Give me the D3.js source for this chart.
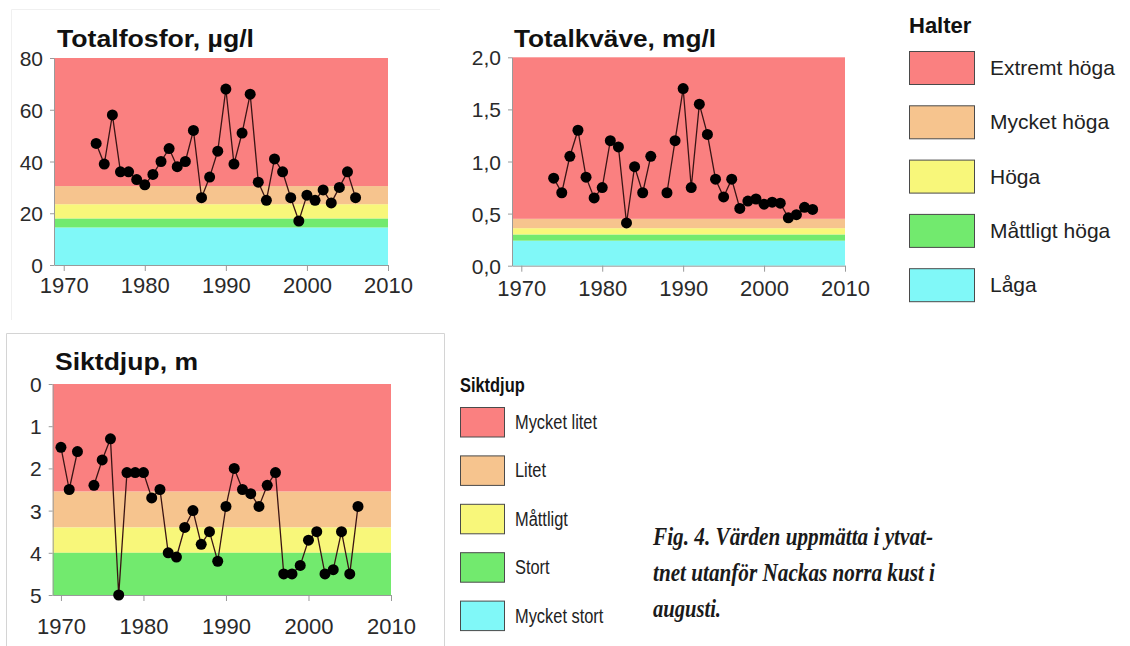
<!DOCTYPE html>
<html>
<head>
<meta charset="utf-8">
<script src="https://cdn.jsdelivr.net/npm/d3@7"></script>
<style>
    body { margin: 0; background: #fff; }
    svg { display: block; font-family: "Liberation Sans", Arial, sans-serif; }
</style>
</head>
<body>
<div class="chart"></div>
<script>
// data
var fosforYears = [1974, 1975, 1976, 1977, 1978, 1979, 1980, 1981, 1982, 1983, 1984, 1985, 1986, 1987, 1988, 1989,
    1990, 1991, 1992, 1993, 1994, 1995, 1996, 1997, 1998, 1999, 2000, 2001, 2002, 2003, 2004, 2005, 2006];
var fosfor = [47, 39, 58, 36, 36, 33, 31, 35, 40, 45, 38, 40, 52, 26, 34, 44,
    68, 39, 51, 66, 32, 25, 41, 36, 26, 17, 27, 25, 29, 24, 30, 36, 26];

var kvaveYears = fosforYears;
var kvave = [0.84, 0.70, 1.05, 1.30, 0.85, 0.65, 0.75, 1.20, 1.14, 0.41, 0.95, 0.70, 1.05, null, 0.70, 1.20,
    1.70, 0.75, 1.55, 1.26, 0.83, 0.66, 0.83, 0.55, 0.62, 0.64, 0.59, 0.61, 0.60, 0.46, 0.49, 0.56, 0.54];

var siktYears = [1970, 1971, 1972, 1973, 1974, 1975, 1976, 1977, 1978, 1979, 1980, 1981, 1982, 1983, 1984, 1985,
    1986, 1987, 1988, 1989, 1990, 1991, 1992, 1993, 1994, 1995, 1996, 1997, 1998, 1999, 2000, 2001, 2002, 2003,
    2004, 2005, 2006];
var sikt = [1.5, 2.5, 1.6, null, 2.4, 1.8, 1.3, 5.0, 2.1, 2.1, 2.1, 2.7, 2.5, 4.0, 4.1, 3.4,
    3.0, 3.8, 3.5, 4.2, 2.9, 2.0, 2.5, 2.6, 2.9, 2.4, 2.1, 4.5, 4.5, 4.3, 3.7, 3.5, 4.5, 4.4,
    3.5, 4.5, 2.9];

// class limits (band edges) per variable
var fosforBands = [0, 14.5, 18, 23.5, 30.5, 80];
var kvaveBands = [0, 0.24, 0.30, 0.36, 0.45, 2.0];
var siktBands = [0, 2.55, 3.4, 4.0, 5.0];

var xTicks = [1970, 1980, 1990, 2000, 2010];
var fosforTicks = [0, 20, 40, 60, 80];
var kvaveTicks = [0, 0.5, 1.0, 1.5, 2.0];
var siktTicks = [0, 1, 2, 3, 4, 5];

var halterLabels = ["Extremt höga", "Mycket höga", "Höga", "Måttligt höga", "Låga"];
var siktLabels = ["Mycket litet", "Litet", "Måttligt", "Stort", "Mycket stort"];
var classColours = ["#fa8080", "#f6c48e", "#f8f77a", "#72ea6e", "#80f8f8"];

var captionLines = ["Fig. 4. Värden uppmätta i ytvat-", "tnet utanför Nackas norra kust i", "augusti."];

var svg = d3.select('.chart')
    .append('svg')
    .attr('width', 1130)
    .attr('height', 646);

// squeeze a text element horizontally (the original uses a narrow face)
function squeeze(sel, k) {
    sel.each(function () {
        var w = this.getComputedTextLength();
        d3.select(this)
            .attr('textLength', w * k)
            .attr('lengthAdjust', 'spacingAndGlyphs');
    });
}

// faint frames from the original layout
svg.append('path')
    .attr('d', 'M6.5,646 V333.5 H444.5 V646')
    .attr('fill', 'none')
    .attr('stroke', '#d4d4d4');
svg.append('path')
    .attr('d', 'M11.5,320 V9.5 H440')
    .attr('fill', 'none')
    .attr('stroke', '#f0f0f0');

var panels = [
    {
        title: "Totalfosfor, µg/l", titleX: 57, titleY: 47, titleW: 197,
        years: fosforYears, values: fosfor, bands: fosforBands, bandColours: classColours.slice().reverse(),
        x: [1968.8, 2010], xr: [54, 388], y: [0, 80], yr: [265, 58],
        yTicks: fosforTicks, fmt: d3.format('d'), xLabelY: 293
    },
    {
        title: "Totalkväve, mg/l", titleX: 514, titleY: 47, titleW: 202,
        years: kvaveYears, values: kvave, bands: kvaveBands, bandColours: classColours.slice().reverse(),
        x: [1968.85, 2010], xr: [512, 845], y: [0, 2], yr: [265.7, 57.3],
        yTicks: kvaveTicks, fmt: function (d) { return d3.format('.1f')(d).replace('.', ','); }, xLabelY: 296
    },
    {
        title: "Siktdjup, m", titleX: 55, titleY: 370, titleW: 143,
        years: siktYears, values: sikt, bands: siktBands, bandColours: classColours.slice(0, 4),
        x: [1969, 2010], xr: [52.7, 391], y: [0, 5], yr: [384, 595],
        yTicks: siktTicks, fmt: d3.format('d'), xLabelY: 634
    }
];

panels.forEach(drawPanel);

function drawPanel(p) {
    var xScale = d3.scaleLinear().domain(p.x).range(p.xr);
    var yScale = d3.scaleLinear().domain(p.y).range(p.yr);
    var bottom = Math.max(p.yr[0], p.yr[1]);
    var g = svg.append('g');

    // colour bands
    for (var i = 0; i < p.bands.length - 1; i++) {
        var y0 = yScale(p.bands[i]), y1 = yScale(p.bands[i + 1]);
        g.append('rect')
            .attr('x', p.xr[0])
            .attr('width', p.xr[1] - p.xr[0])
            .attr('y', Math.min(y0, y1))
            .attr('height', Math.abs(y1 - y0))
            .attr('fill', p.bandColours[i]);
    }

    var xAxis = d3.axisBottom(xScale)
        .tickValues(xTicks)
        .tickFormat(d3.format('d'))
        .tickSize(6)
        .tickSizeOuter(0);
    var ax = g.append('g')
        .attr('transform', 'translate(0,' + bottom + ')')
        .call(xAxis);
    ax.select('.domain').attr('stroke', '#9a9a9a');
    ax.selectAll('.tick line').attr('stroke', '#9a9a9a');
    ax.selectAll('.tick text')
        .attr('y', p.xLabelY - bottom)
        .attr('dy', 0)
        .style('font-size', '22px')
        .attr('fill', '#2a2a2a');

    var yAxis = d3.axisLeft(yScale)
        .tickValues(p.yTicks)
        .tickFormat(p.fmt)
        .tickSize(4)
        .tickSizeOuter(0);
    var ay = g.append('g')
        .attr('transform', 'translate(' + p.xr[0] + ',0)')
        .call(yAxis);
    ay.select('.domain').attr('stroke', '#9a9a9a');
    ay.selectAll('.tick line').attr('stroke', '#9a9a9a');
    ay.selectAll('.tick text')
        .attr('x', -11)
        .attr('dy', '0.36em')
        .style('font-size', '21px')
        .attr('fill', '#2a2a2a');

    var pts = p.years.map(function (yr, i) {
        return { x: yr, y: p.values[i] };
    });

    var line = d3.line()
        .defined(function (d) { return d.y !== null; })
        .x(function (d) { return xScale(d.x); })
        .y(function (d) { return yScale(d.y); });

    g.append('path')
        .datum(pts)
        .attr('d', line)
        .attr('fill', 'none')
        .attr('stroke', '#3a1414')
        .attr('stroke-width', 1.3);

    g.selectAll('circle')
        .data(pts.filter(function (d) { return d.y !== null; }))
        .enter()
        .append('circle')
        .attr('cx', function (d) { return xScale(d.x); })
        .attr('cy', function (d) { return yScale(d.y); })
        .attr('r', 5.5)
        .attr('fill', '#000');

    g.append('text')
        .attr('x', p.titleX)
        .attr('y', p.titleY)
        .attr('textLength', p.titleW)
        .attr('lengthAdjust', 'spacingAndGlyphs')
        .style('font-size', '23px')
        .style('font-weight', 'bold')
        .attr('fill', '#111')
        .text(p.title);
}

// legends
function drawLegend(title, labels, opts) {
    var g = svg.append('g');
    g.append('text')
        .attr('x', opts.x)
        .attr('y', opts.titleY)
        .style('font-size', opts.titleSize + 'px')
        .style('font-weight', 'bold')
        .attr('fill', '#111')
        .text(title)
        .call(squeeze, opts.squeeze);
    labels.forEach(function (s, i) {
        g.append('rect')
            .attr('x', opts.x + 0.5)
            .attr('y', opts.y0 + i * opts.step + 0.5)
            .attr('width', opts.w)
            .attr('height', opts.h)
            .attr('fill', classColours[i])
            .attr('stroke', '#4a4a4a')
            .attr('stroke-width', 1);
        g.append('text')
            .attr('x', opts.labelX)
            .attr('y', opts.y0 + i * opts.step + opts.h / 2)
            .attr('dy', '0.36em')
            .style('font-size', opts.size + 'px')
            .attr('fill', '#222')
            .text(s)
            .call(squeeze, opts.squeeze);
    });
}

drawLegend("Halter", halterLabels, {
    x: 909, titleY: 33, titleSize: 22, y0: 51, step: 54.3, w: 65, h: 33, labelX: 990, size: 21, squeeze: 1
});
drawLegend("Siktdjup", siktLabels, {
    x: 460, titleY: 392, titleSize: 20, y0: 407, step: 48.4, w: 44, h: 29.5, labelX: 515, size: 20, squeeze: 0.82
});

// caption
var capWidths = [280, 282, 68];
captionLines.forEach(function (s, i) {
    svg.append('text')
        .attr('x', 653)
        .attr('y', 545 + i * 36)
        .attr('textLength', capWidths[i])
        .attr('lengthAdjust', 'spacingAndGlyphs')
        .style('font-family', '"Liberation Serif", "DejaVu Serif", serif')
        .style('font-size', '26px')
        .style('font-style', 'italic')
        .style('font-weight', 'bold')
        .attr('fill', '#1a1a1a')
        .text(s);
});
</script>
</body>
</html>
